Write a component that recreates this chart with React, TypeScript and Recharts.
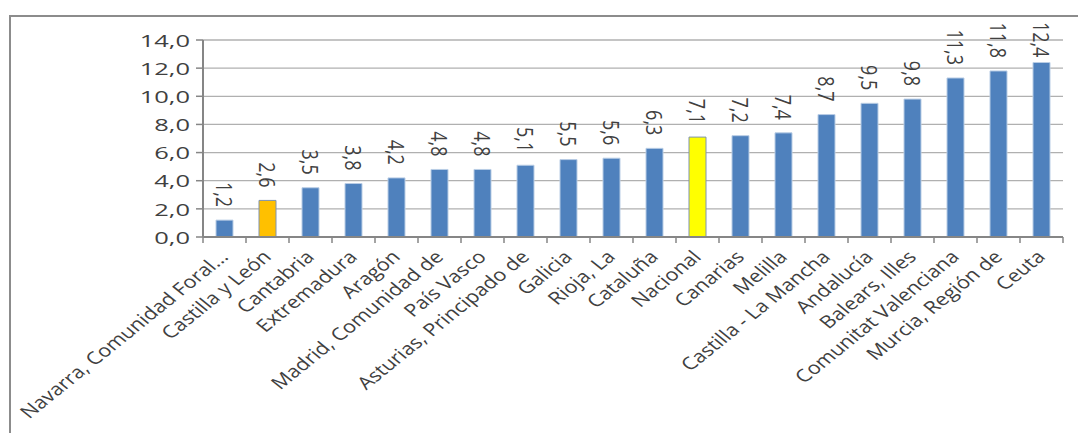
import React from "react";
import { BarChart, Bar, XAxis, YAxis, CartesianGrid, Cell, LabelList } from "recharts";

const categories = [
  "Navarra, Comunidad Foral...",
  "Castilla y León",
  "Cantabria",
  "Extremadura",
  "Aragón",
  "Madrid, Comunidad de",
  "País Vasco",
  "Asturias, Principado de",
  "Galicia",
  "Rioja, La",
  "Cataluña",
  "Nacional",
  "Canarias",
  "Melilla",
  "Castilla - La Mancha",
  "Andalucía",
  "Balears, Illes",
  "Comunitat Valenciana",
  "Murcia, Región de",
  "Ceuta",
];
const values = [1.2, 2.6, 3.5, 3.8, 4.2, 4.8, 4.8, 5.1, 5.5, 5.6, 6.3, 7.1, 7.2, 7.4, 8.7, 9.5, 9.8, 11.3, 11.8, 12.4];
const yTicks = [0, 2, 4, 6, 8, 10, 12, 14];
const nationalName = "Nacional";
const regionName = "Castilla y León";

const data = categories.map((name, i) => ({ name, value: values[i] }));

const W = 1078;
const H = 433;
const FONT = "'Open Sans', sans-serif";
const TEXT = "#404040";
const STRETCH = 1.24;

const fmt = (v: number) => v.toFixed(1).replace(".", ",");

const barFill = (name: string) =>
  name === nationalName ? "#FFFF00" : name === regionName ? "#FFC000" : "#4F81BD";
const barStroke = (name: string) =>
  name === nationalName || name === regionName ? "#7E93B0" : "#B9CDE5";

function XTick(props: any) {
  const { x, y, payload, index } = props;
  const half = payload && typeof payload.offset === "number" ? payload.offset : 21.5;
  return (
    <g>
      {index === 0 && (
        <line x1={x - half} x2={x - half} y1={y - 6} y2={y} stroke="#868686" strokeWidth={1.5} />
      )}
      <line x1={x + half} x2={x + half} y1={y - 6} y2={y} stroke="#868686" strokeWidth={1.5} />
      <text
        transform={`translate(${x + 5},${y + 15}) scale(${STRETCH},1) rotate(-45)`}
        textAnchor="end"
        fontFamily={FONT}
        fontSize={17.5}
        fill={TEXT}
      >
        {payload.value}
      </text>
    </g>
  );
}

function YTick(props: any) {
  const { x, y, payload } = props;
  return (
    <text
      transform={`translate(${x},${y}) scale(1.5,1)`}
      textAnchor="end"
      dominantBaseline="central"
      fontFamily={FONT}
      fontSize={17}
      fill={TEXT}
    >
      {fmt(payload.value)}
    </text>
  );
}

function ValueLabel(props: any) {
  const { x, y, width, value } = props;
  const cx = x + width / 2;
  const text = fmt(Number(value));
  const digits = text.replace(",", "").length;
  const len = digits * 10.3 + 4.5;
  let end = y - 13;
  if (end - len < 22) end = 22 + len;
  return (
    <text
      transform={`translate(${cx},${end}) scale(${STRETCH},1) rotate(90)`}
      textAnchor="end"
      dominantBaseline="central"
      fontFamily={FONT}
      fontSize={18}
      fill={TEXT}
    >
      {text}
    </text>
  );
}

export default function App() {
  return (
    <div style={{ position: "absolute", left: 0, top: 0, width: W, height: H, background: "#fff", overflow: "hidden" }}>
      <div
        style={{
          position: "absolute",
          left: 9,
          top: 15,
          width: W + 20,
          height: H + 20,
          border: "2px solid #8C8C8C",
          boxSizing: "border-box",
        }}
      />
      <div style={{ position: "absolute", left: 0, top: 0 }}>
        <BarChart width={W} height={H} data={data} margin={{ top: 40, right: 15, bottom: 0, left: 0 }}>
          <CartesianGrid vertical={false} stroke="#B0B0B0" strokeWidth={1.3} />
          <XAxis
            dataKey="name"
            interval={0}
            tickLine={false}
            tickSize={6}
            tickMargin={0}
            tick={<XTick />}
            axisLine={{ stroke: "#868686", strokeWidth: 2 }}
            height={196}
          />
          <YAxis
            domain={[0, 14]}
            ticks={yTicks}
            width={203}
            tickSize={7}
            tickMargin={6}
            tick={<YTick />}
            tickLine={{ stroke: "#868686", strokeWidth: 1.5 }}
            axisLine={{ stroke: "#868686", strokeWidth: 2 }}
          />
          <Bar dataKey="value" isAnimationActive={false} barSize={17}>
            {data.map((d) => (
              <Cell key={d.name} fill={barFill(d.name)} stroke={barStroke(d.name)} strokeWidth={1} />
            ))}
            <LabelList dataKey="value" content={<ValueLabel />} />
          </Bar>
        </BarChart>
      </div>
    </div>
  );
}
